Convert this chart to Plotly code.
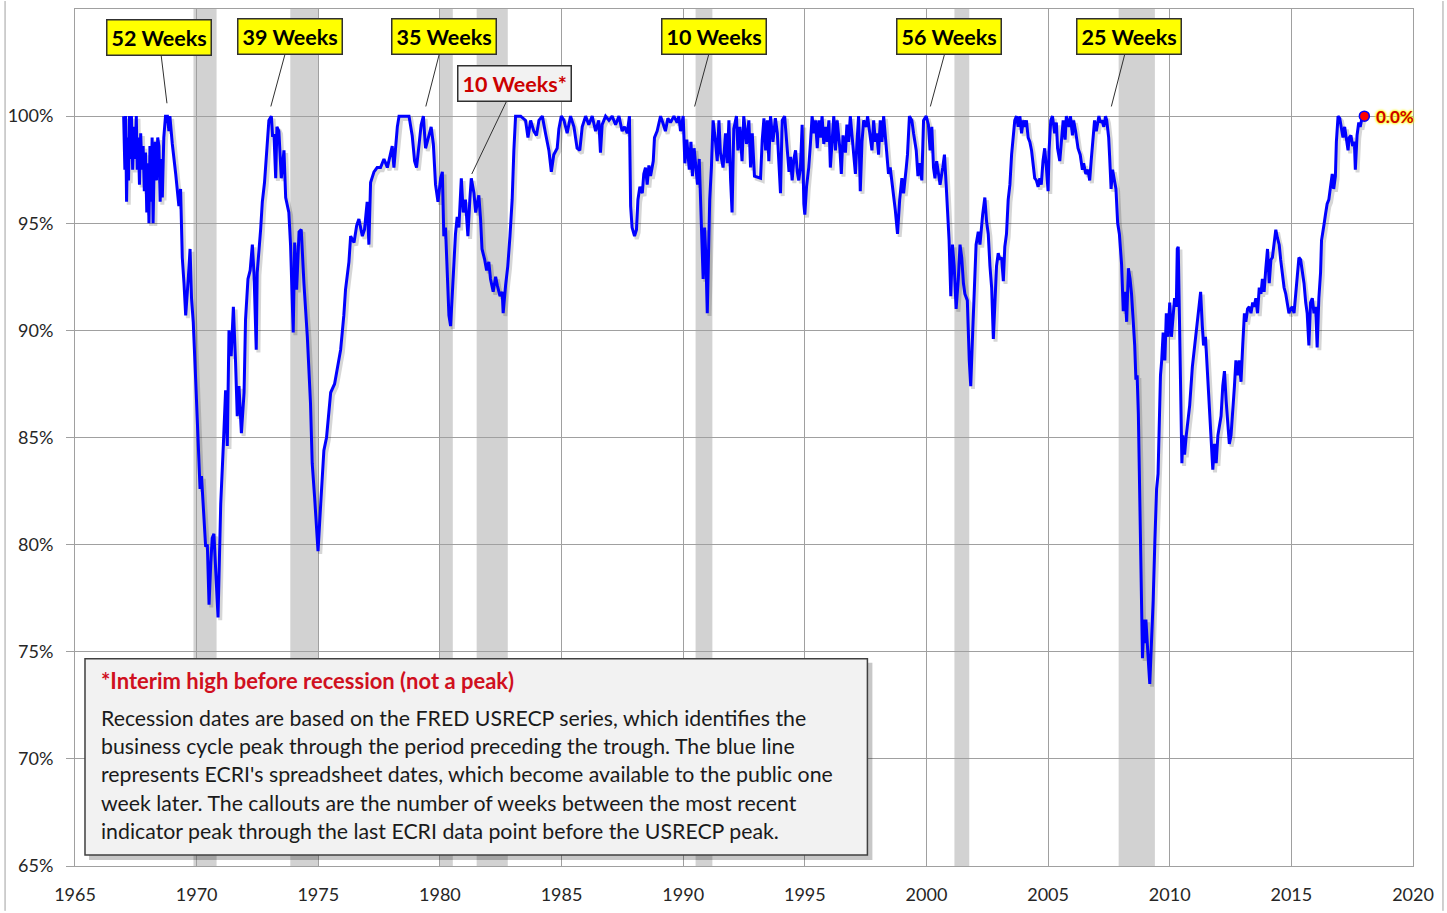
import plotly.graph_objects as go

# ---------------- data ----------------
years = [
    1967.00, 1967.05, 1967.08, 1967.12, 1967.16, 1967.20, 1967.24, 1967.28, 1967.32, 1967.37,
    1967.42, 1967.47, 1967.52, 1967.56, 1967.60, 1967.65, 1967.70, 1967.75, 1967.80, 1967.85,
    1967.90, 1967.95, 1968.00, 1968.04, 1968.08, 1968.12, 1968.17, 1968.21, 1968.25, 1968.30,
    1968.35, 1968.40, 1968.45, 1968.50, 1968.55, 1968.59, 1968.65, 1968.72, 1968.80, 1968.86,
    1968.90, 1969.00, 1969.14, 1969.27, 1969.34, 1969.41, 1969.48, 1969.55, 1969.66, 1969.73,
    1969.79, 1969.86, 1969.96, 1970.05, 1970.14, 1970.20, 1970.30, 1970.37, 1970.44, 1970.51,
    1970.58, 1970.64, 1970.71, 1970.78, 1970.88, 1970.94, 1970.99, 1971.10, 1971.19, 1971.26,
    1971.33, 1971.42, 1971.51, 1971.60, 1971.67, 1971.74, 1971.84, 1971.95, 1972.01, 1972.11,
    1972.20, 1972.29, 1972.36, 1972.45, 1972.49, 1972.63, 1972.70, 1972.79, 1972.88, 1972.97,
    1973.07, 1973.12, 1973.18, 1973.25, 1973.30, 1973.38, 1973.48, 1973.59, 1973.66, 1973.79,
    1973.86, 1973.97, 1974.03, 1974.11, 1974.21, 1974.30, 1974.41, 1974.55, 1974.68, 1974.75,
    1974.85, 1974.99, 1975.10, 1975.23, 1975.34, 1975.44, 1975.51, 1975.67, 1975.78, 1975.92,
    1976.05, 1976.12, 1976.26, 1976.33, 1976.47, 1976.58, 1976.67, 1976.81, 1976.90, 1977.01,
    1977.08, 1977.15, 1977.29, 1977.42, 1977.56, 1977.70, 1977.84, 1977.97, 1978.04, 1978.11,
    1978.25, 1978.32, 1978.52, 1978.73, 1978.86, 1978.96, 1979.04, 1979.14, 1979.23, 1979.32,
    1979.41, 1979.55, 1979.64, 1979.73, 1979.82, 1979.92, 1980.03, 1980.10, 1980.16, 1980.23,
    1980.30, 1980.37, 1980.44, 1980.55, 1980.64, 1980.71, 1980.78, 1980.88, 1980.96, 1981.05,
    1981.15, 1981.23, 1981.29, 1981.40, 1981.47, 1981.53, 1981.60, 1981.67, 1981.73, 1981.84,
    1981.92, 1982.01, 1982.08, 1982.19, 1982.29, 1982.36, 1982.47, 1982.56, 1982.60, 1982.70,
    1982.79, 1982.88, 1982.97, 1983.04, 1983.11, 1983.32, 1983.52, 1983.62, 1983.73, 1983.86,
    1983.97, 1984.07, 1984.21, 1984.34, 1984.48, 1984.58, 1984.68, 1984.82, 1984.89, 1984.99,
    1985.10, 1985.23, 1985.37, 1985.51, 1985.64, 1985.75, 1985.85, 1985.99, 1986.12, 1986.26,
    1986.40, 1986.53, 1986.60, 1986.67, 1986.81, 1986.95, 1987.08, 1987.22, 1987.36, 1987.49,
    1987.59, 1987.70, 1987.79, 1987.84, 1987.90, 1988.00, 1988.08, 1988.14, 1988.22, 1988.32,
    1988.38, 1988.45, 1988.52, 1988.59, 1988.66, 1988.77, 1988.82, 1988.93, 1989.07, 1989.16,
    1989.27, 1989.37, 1989.48, 1989.62, 1989.75, 1989.82, 1989.89, 1990.00, 1990.07, 1990.15,
    1990.25, 1990.32, 1990.38, 1990.45, 1990.52, 1990.59, 1990.66, 1990.71, 1990.78, 1990.82,
    1990.88, 1990.93, 1990.99, 1991.05, 1991.09, 1991.16, 1991.23, 1991.33, 1991.40, 1991.47,
    1991.53, 1991.64, 1991.74, 1991.81, 1991.88, 1991.95, 1992.01, 1992.08, 1992.19, 1992.25,
    1992.33, 1992.42, 1992.49, 1992.60, 1992.70, 1992.77, 1992.84, 1992.93, 1993.18, 1993.25,
    1993.32, 1993.39, 1993.46, 1993.52, 1993.59, 1993.69, 1993.79, 1993.87, 1993.94, 1994.00,
    1994.03, 1994.07, 1994.17, 1994.25, 1994.35, 1994.41, 1994.48, 1994.55, 1994.62, 1994.69,
    1994.75, 1994.82, 1994.89, 1994.96, 1995.00, 1995.07, 1995.16, 1995.23, 1995.30, 1995.37,
    1995.44, 1995.51, 1995.58, 1995.64, 1995.71, 1995.78, 1995.85, 1995.92, 1995.99, 1996.05,
    1996.12, 1996.19, 1996.26, 1996.33, 1996.44, 1996.50, 1996.57, 1996.67, 1996.73, 1996.80,
    1996.87, 1996.94, 1997.01, 1997.08, 1997.14, 1997.21, 1997.28, 1997.35, 1997.42, 1997.53,
    1997.58, 1997.69, 1997.76, 1997.83, 1997.90, 1997.96, 1998.03, 1998.10, 1998.17, 1998.24,
    1998.31, 1998.37, 1998.44, 1998.51, 1998.58, 1998.65, 1998.72, 1998.81, 1998.90, 1998.99,
    1999.06, 1999.17, 1999.22, 1999.30, 1999.40, 1999.47, 1999.58, 1999.65, 1999.72, 1999.81,
    1999.88, 1999.99, 2000.08, 2000.15, 2000.22, 2000.29, 2000.35, 2000.42, 2000.49, 2000.56,
    2000.67, 2000.74, 2000.81, 2000.86, 2000.93, 2001.00, 2001.07, 2001.14, 2001.22, 2001.31,
    2001.38, 2001.45, 2001.52, 2001.58, 2001.68, 2001.76, 2001.82, 2001.90, 2001.96, 2002.04,
    2002.13, 2002.20, 2002.31, 2002.40, 2002.47, 2002.54, 2002.61, 2002.68, 2002.75, 2002.82,
    2002.88, 2002.95, 2003.02, 2003.09, 2003.16, 2003.22, 2003.29, 2003.36, 2003.43, 2003.50,
    2003.57, 2003.63, 2003.70, 2003.77, 2003.84, 2003.91, 2003.98, 2004.04, 2004.11, 2004.18,
    2004.25, 2004.32, 2004.38, 2004.45, 2004.52, 2004.59, 2004.66, 2004.72, 2004.79, 2004.86,
    2004.93, 2005.00, 2005.04, 2005.11, 2005.18, 2005.27, 2005.34, 2005.39, 2005.48, 2005.57,
    2005.62, 2005.70, 2005.75, 2005.86, 2005.92, 2006.00, 2006.05, 2006.13, 2006.23, 2006.32,
    2006.41, 2006.46, 2006.55, 2006.64, 2006.71, 2006.77, 2006.84, 2006.91, 2006.98, 2007.09,
    2007.14, 2007.22, 2007.29, 2007.36, 2007.41, 2007.49, 2007.53, 2007.59, 2007.65, 2007.72,
    2007.79, 2007.86, 2007.93, 2008.02, 2008.09, 2008.16, 2008.23, 2008.30, 2008.37, 2008.43,
    2008.50, 2008.56, 2008.61, 2008.66, 2008.71, 2008.75, 2008.80, 2008.84, 2008.88, 2008.94,
    2008.98, 2009.02, 2009.08, 2009.14, 2009.18, 2009.25, 2009.32, 2009.39, 2009.46, 2009.52,
    2009.56, 2009.62, 2009.67, 2009.73, 2009.80, 2009.86, 2009.93, 2010.00, 2010.07, 2010.14,
    2010.20, 2010.27, 2010.31, 2010.35, 2010.41, 2010.45, 2010.50, 2010.54, 2010.61, 2010.68,
    2010.75, 2010.82, 2010.93, 2011.02, 2011.09, 2011.16, 2011.23, 2011.27, 2011.34, 2011.39,
    2011.47, 2011.53, 2011.58, 2011.63, 2011.70, 2011.77, 2011.84, 2011.91, 2011.98, 2012.04,
    2012.11, 2012.18, 2012.25, 2012.32, 2012.38, 2012.45, 2012.52, 2012.59, 2012.66, 2012.72,
    2012.79, 2012.86, 2012.93, 2013.00, 2013.07, 2013.13, 2013.20, 2013.27, 2013.34, 2013.41,
    2013.47, 2013.54, 2013.61, 2013.68, 2013.75, 2013.81, 2013.88, 2013.95, 2014.02, 2014.09,
    2014.16, 2014.22, 2014.29, 2014.36, 2014.43, 2014.50, 2014.56, 2014.63, 2014.70, 2014.77,
    2014.84, 2014.90, 2014.97, 2015.04, 2015.11, 2015.18, 2015.25, 2015.31, 2015.38, 2015.45,
    2015.52, 2015.59, 2015.65, 2015.72, 2015.79, 2015.86, 2015.93, 2016.00, 2016.06, 2016.13,
    2016.20, 2016.24, 2016.29, 2016.35, 2016.40, 2016.47, 2016.54, 2016.61, 2016.68, 2016.74,
    2016.81, 2016.85, 2016.92, 2016.99, 2017.06, 2017.12, 2017.19, 2017.26, 2017.33, 2017.38,
    2017.45, 2017.52, 2017.59, 2017.63, 2017.70, 2017.77, 2017.83, 2017.90, 2018.00,
]

values = [
    100.0, 97.5, 100.0, 96.0, 99.0, 97.0, 100.0, 98.0, 100.0, 97.5,
    99.5, 98.0, 100.0, 97.5, 99.0, 96.8, 99.2, 97.5, 98.6, 96.5,
    98.3, 95.5, 97.8, 95.0, 98.6, 96.0, 99.0, 95.0, 97.5, 98.8,
    97.0, 99.0, 98.6, 96.0, 98.0, 96.2, 99.0, 100.0, 100.0, 99.3,
    100.0, 98.7, 97.3, 95.8, 96.6, 93.4, 92.2, 90.7, 92.5, 93.8,
    91.5, 90.4, 87.7, 85.0, 82.6, 83.2, 81.1, 79.9, 80.0, 77.2,
    79.1, 80.3, 80.5, 78.8, 76.6, 79.5, 81.9, 84.7, 87.2, 84.6,
    90.0, 88.8, 91.1, 88.5, 86.0, 87.4, 85.2, 87.1, 90.5, 92.4,
    92.8, 94.0, 92.6, 89.1, 92.7, 94.7, 96.0, 96.9, 98.4, 99.8,
    100.0, 99.1, 99.1, 97.1, 99.5, 99.3, 97.1, 98.4, 96.2, 95.5,
    94.0, 89.9, 94.1, 91.9, 94.6, 94.7, 92.2, 89.7, 86.6, 83.8,
    82.2, 79.7, 81.9, 84.4, 85.0, 86.3, 87.1, 87.5, 88.3, 89.1,
    90.7, 91.9, 93.2, 94.4, 94.1, 94.9, 95.2, 94.4, 94.7, 96.0,
    94.0, 96.9, 97.4, 97.6, 97.6, 98.0, 97.6, 98.2, 98.6, 97.6,
    99.5, 100.0, 100.0, 100.0, 99.1, 97.9, 97.6, 98.8, 99.6, 100.0,
    98.5, 99.1, 99.5, 98.7, 96.8, 96.0, 97.1, 97.4, 94.4, 94.8,
    92.7, 90.7, 90.2, 92.7, 94.5, 95.3, 94.8, 97.1, 95.5, 96.1,
    94.4, 96.1, 97.1, 96.4, 95.5, 95.9, 96.3, 95.2, 93.8, 93.3,
    92.8, 93.2, 92.4, 91.8, 92.5, 92.1, 91.6, 91.8, 90.8, 92.1,
    93.0, 94.4, 96.1, 98.4, 100.0, 100.0, 99.8, 99.0, 99.8, 99.3,
    99.1, 99.8, 100.0, 99.2, 98.4, 97.4, 98.2, 98.5, 99.4, 100.0,
    99.8, 99.2, 100.0, 99.5, 98.5, 98.4, 99.5, 100.0, 99.6, 100.0,
    99.3, 99.8, 98.3, 99.6, 100.0, 99.8, 100.0, 99.6, 100.0, 99.3,
    99.5, 99.2, 100.0, 95.8, 94.8, 94.4, 94.7, 96.1, 96.7, 96.4,
    97.3, 97.6, 96.8, 97.7, 97.2, 97.9, 99.0, 99.3, 100.0, 99.7,
    99.3, 99.9, 99.7, 100.0, 99.7, 100.0, 99.3, 100.0, 97.8, 98.9,
    97.5, 98.8, 97.2, 98.5, 97.6, 96.8, 98.0, 96.5, 94.1, 92.4,
    94.8, 93.5, 90.8, 93.8, 96.1, 97.6, 99.8, 98.8, 97.9, 99.8,
    98.3, 97.6, 99.2, 97.8, 99.8, 97.0, 95.5, 99.4, 100.0, 98.4,
    99.5, 97.9, 100.0, 98.7, 99.8, 97.6, 99.2, 97.2, 97.1, 98.9,
    99.9, 98.4, 99.8, 97.9, 100.0, 98.8, 99.9, 99.2, 97.6, 96.4,
    97.9, 99.8, 100.0, 98.7, 97.4, 98.1, 97.0, 98.0, 98.4, 97.4,
    97.0, 97.6, 99.6, 95.9, 95.4, 96.7, 97.6, 98.7, 100.0, 99.2,
    99.8, 98.5, 99.8, 99.0, 100.0, 98.7, 99.5, 98.8, 99.8, 97.6,
    98.8, 100.0, 98.4, 99.8, 98.5, 97.3, 99.1, 98.3, 99.6, 98.8,
    100.0, 99.2, 98.2, 97.3, 98.7, 100.0, 96.5, 98.8, 99.8, 99.5,
    100.0, 99.0, 98.4, 99.8, 98.8, 99.2, 98.2, 99.8, 98.8, 100.0,
    99.0, 98.4, 97.3, 97.6, 97.0, 96.4, 95.6, 94.5, 96.1, 97.1,
    96.4, 97.6, 98.2, 100.0, 99.8, 99.2, 98.4, 97.2, 97.8, 97.0,
    99.8, 100.0, 99.6, 98.4, 99.5, 97.6, 97.1, 97.9, 97.3, 96.8,
    97.6, 98.2, 96.8, 95.9, 94.2, 91.6, 94.0, 93.0, 91.0, 92.4,
    94.0, 93.4, 92.2, 91.7, 91.4, 88.6, 87.4, 89.9, 92.0, 94.0,
    94.6, 94.0, 95.4, 96.2, 95.1, 94.5, 93.0, 92.0, 89.6, 91.3,
    93.0, 93.6, 93.3, 93.4, 92.3, 93.9, 94.5, 96.1, 96.8, 98.2,
    99.0, 99.8, 100.0, 99.5, 100.0, 99.2, 99.8, 99.5, 99.8, 99.0,
    98.8, 98.4, 97.8, 97.1, 97.0, 96.7, 97.1, 96.8, 97.9, 98.5,
    97.6, 96.5, 98.4, 99.8, 100.0, 99.2, 99.7, 98.5, 97.9, 99.2,
    99.8, 98.9, 100.0, 99.5, 100.0, 99.1, 99.8, 99.3, 98.5, 98.2,
    97.5, 97.8, 97.3, 97.5, 97.0, 97.9, 99.0, 99.8, 99.3, 100.0,
    99.7, 99.8, 99.5, 100.0, 99.8, 99.0, 98.1, 96.6, 97.5, 97.0,
    96.6, 95.0, 94.5, 93.1, 90.9, 91.8, 90.4, 92.9, 92.4, 91.7,
    90.6, 89.3, 87.7, 87.9, 86.1, 83.6, 80.2, 76.9, 74.7, 76.5,
    75.4, 76.5, 75.1, 74.2, 73.5, 75.1, 77.4, 80.2, 82.6, 83.3,
    85.4, 87.9, 88.6, 89.9, 88.6, 90.8, 89.7, 91.3, 89.7, 90.8,
    91.5, 91.1, 93.8, 93.9, 89.7, 86.1, 83.8, 85.1, 84.2, 85.1,
    85.8, 86.5, 88.3, 89.3, 90.1, 90.8, 91.7, 91.8, 90.2, 89.3,
    89.7, 88.4, 87.2, 86.1, 85.1, 83.5, 84.7, 83.8, 85.1, 85.6,
    86.0, 87.4, 88.1, 86.7, 85.6, 84.7, 85.1, 86.1, 87.4, 88.6,
    87.9, 88.6, 87.6, 89.3, 90.8, 90.4, 91.0, 91.1, 90.8, 91.3,
    91.1, 91.5, 90.8, 92.0, 91.7, 92.4, 91.8, 92.9, 93.8, 92.2,
    93.3, 93.4, 94.2, 94.7, 94.3, 94.0, 93.3, 92.7, 92.0, 91.7,
    91.1, 90.8, 91.0, 91.1, 90.8, 91.8, 92.9, 93.4, 93.3, 92.7,
    92.2, 91.3, 90.8, 89.3, 91.3, 91.5, 90.8, 91.1, 89.2, 91.5,
    92.7, 94.2, 94.7, 95.0, 95.4, 95.9, 96.1, 96.6, 97.3, 96.6,
    97.2, 98.8, 100.0, 99.9, 99.3, 99.0, 99.5, 98.8, 98.4, 99.0,
    99.1, 98.6, 98.8, 97.5, 99.1, 99.7, 99.5, 99.9, 100.0,
]

# recession periods (FRED USRECP), decimal years
rec_start = [1969.87, 1973.85, 1980.00, 1981.51, 1990.51, 2001.15, 2007.90]
rec_end = [1970.82, 1975.00, 1980.53, 1982.79, 1991.20, 2001.76, 2009.39]

# callouts: label, year of the indicator peak, value at tip
callout_labels = ["52 Weeks", "39 Weeks", "35 Weeks", "10 Weeks*", "10 Weeks", "56 Weeks", "25 Weeks"]
callout_years = [1968.78, 1973.05, 1979.42, 1981.31, 1990.47, 2000.16, 2007.60]
callout_values = [100.6, 100.45, 100.45, 97.3, 100.45, 100.45, 100.45]

y_ticks = [65, 70, 75, 80, 85, 90, 95, 100]
last_change_label = "0.0%"

FONT = "Lato, 'Open Sans', sans-serif"

fig = go.Figure()

# soft shadow of the line
fig.add_trace(go.Scatter(
    x=[v + 0.09 for v in years], y=[v - 0.13 for v in values],
    mode="lines", line=dict(color="rgba(0,0,0,0.16)", width=4),
    hoverinfo="skip", showlegend=False,
))
fig.add_trace(go.Scatter(
    x=years, y=values, mode="lines",
    line=dict(color="#0000FF", width=3),
    showlegend=False,
))
fig.add_trace(go.Scatter(
    x=[years[-1]], y=[values[-1]], mode="markers",
    marker=dict(color="#FF0000", size=10, line=dict(color="#0000FF", width=1.5)),
    showlegend=False,
))

shapes = []
for s, e in zip(rec_start, rec_end):
    shapes.append(dict(type="rect", xref="x", yref="paper", x0=s, x1=e, y0=0, y1=1,
                       fillcolor="#D2D2D2", line=dict(width=0), layer="below"))

# plot geometry (pixels)
L, R, T, B = 74, 34, 8, 45
W, H = 1447, 913
pw, ph = W - L - R, H - T - B

def px(xp):
    return (xp - L) / pw

def py(yp):
    return (H - B - yp) / ph

# note box shadow + box
shapes.append(dict(type="rect", xref="paper", yref="paper",
                   x0=px(88), x1=px(872), y0=py(862), y1=py(664),
                   fillcolor="rgba(0,0,0,0.22)", line=dict(width=0), layer="above"))
shapes.append(dict(type="rect", xref="paper", yref="paper",
                   x0=px(84), x1=px(867), y0=py(857), y1=py(660),
                   fillcolor="#F2F2F2", line=dict(color="#404040", width=1.5), layer="above"))
# outer chart border
shapes.append(dict(type="line", xref="paper", yref="paper", x0=px(4), x1=px(4),
                   y0=py(913), y1=py(0), line=dict(color="#A0A0A0", width=1)))
shapes.append(dict(type="line", xref="paper", yref="paper", x0=px(1443), x1=px(1443),
                   y0=py(913), y1=py(0), line=dict(color="#A0A0A0", width=1)))

annotations = []
offsets = [(-8, -66), (19, -70), (18, -70), (43, -90), (19, -70), (19, -70), (18, -70)]
for lab, cx, cy, (ax, ay) in zip(callout_labels, callout_years, callout_values, offsets):
    star = lab.endswith("*")
    annotations.append(dict(
        x=cx, y=cy, xref="x", yref="y", text="<b>%s</b>" % lab,
        showarrow=True, arrowhead=0, arrowwidth=1, arrowcolor="#303030",
        ax=ax, ay=ay,
        font=dict(family=FONT, size=21.5, color="#CC0000" if star else "#000000"),
        bgcolor="#F2F2F2" if star else "#FFFF00",
        bordercolor="#303030", borderwidth=1.5, borderpad=4,
    ))

annotations.append(dict(
    x=years[-1], y=values[-1], xref="x", yref="y", text="<b>%s</b>" % last_change_label,
    showarrow=False, xanchor="left", yanchor="middle", xshift=10,
    font=dict(family=FONT, size=17, color="#CC0000",
              shadow="0px 0px 3px #FFFF00, 0px 0px 3px #FFFF00, 0px 0px 2px #FFFF00"),
))

note_title = "*Interim high before recession (not a peak)"
note_lines = [
    "Recession dates are based on the FRED USRECP series, which identifies the",
    "business cycle peak through the period preceding the trough. The blue line",
    "represents ECRI's spreadsheet dates, which become available to the public one",
    "week later. The callouts are the number of weeks between the most recent",
    "indicator peak through the last ECRI data point before the USRECP peak.",
]
annotations.append(dict(
    x=px(98), y=py(682), xref="paper", yref="paper", text="<b>%s</b>" % note_title,
    showarrow=False, xanchor="left", yanchor="middle",
    font=dict(family=FONT, size=22, color="#D0101E"),
))
for i, line in enumerate(note_lines):
    annotations.append(dict(
        x=px(98), y=py(719 + i * 28.5), xref="paper", yref="paper", text=line,
        showarrow=False, xanchor="left", yanchor="middle",
        font=dict(family=FONT, size=21.3, color="#1A1A1A"),
    ))

fig.update_layout(
    width=W, height=H,
    margin=dict(l=L, r=R, t=T, b=B),
    paper_bgcolor="white", plot_bgcolor="white",
    shapes=shapes, annotations=annotations,
    showlegend=False,
    font=dict(family=FONT, size=18, color="#262626"),
)
fig.update_xaxes(
    range=[1965, 2020], tickmode="linear", tick0=1965, dtick=5,
    showgrid=True, gridcolor="#A0A0A0", gridwidth=1,
    showline=True, linecolor="#A0A0A0", linewidth=1, mirror=True,
    ticks="", ticklabelstandoff=12, zeroline=False,
    tickfont=dict(family=FONT, size=18, color="#262626"),
)
fig.update_yaxes(
    range=[65, 105], tickmode="array", tickvals=y_ticks,
    ticktext=["%d%%" % v for v in y_ticks],
    showgrid=True, gridcolor="#A0A0A0", gridwidth=1,
    showline=True, linecolor="#A0A0A0", linewidth=1, mirror=True,
    ticks="outside", ticklen=8, tickcolor="#A0A0A0", ticklabelstandoff=9,
    zeroline=False,
    tickfont=dict(family=FONT, size=18, color="#262626"),
)

fig.write_html(
    "out.html",
    config={"displayModeBar": False},
    post_script="document.body.style.margin='0';document.body.style.overflow='hidden';",
)
